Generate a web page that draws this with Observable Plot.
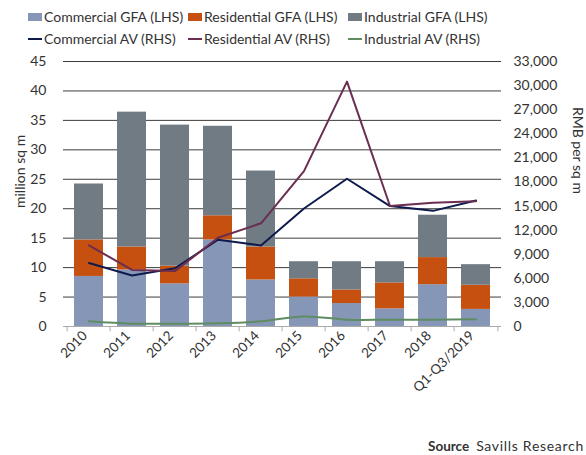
<!DOCTYPE html>
<html><head><meta charset="utf-8">
<script src="https://cdn.jsdelivr.net/npm/d3@7"></script>
<script src="https://cdn.jsdelivr.net/npm/@observablehq/plot@0.6"></script>
<style>
body{margin:0;background:#fff;font-family:Lato,"Open Sans",sans-serif;}
#wrap{position:relative;width:586px;height:455px;overflow:hidden}
#wrap svg{position:absolute;left:0;top:0}
.leg{position:absolute;font-size:14px;color:#333;display:flex;align-items:center;white-space:nowrap;line-height:16px}
.sw{display:inline-block;width:14px;height:8px;margin-right:2px}
.ln{display:inline-block;width:14px;height:2px;margin-right:2px}
.src{position:absolute;left:428px;top:437px;font-size:13.5px;color:#333;white-space:nowrap}
.src span{letter-spacing:0.7px;font-size:14px}
</style></head><body><div id="wrap"></div>
<script>
const categories = ["2010","2011","2012","2013","2014","2015","2016","2017","2018","Q1-Q3/2019"];
const barSeries = ["Commercial GFA (LHS)","Residential GFA (LHS)","Industrial GFA (LHS)"];
const barColors = ["#8596b6","#c5500f","#717b83"];
const commercialGFA = [8.5, 9.6, 7.25, 14.7, 7.9, 5.0, 3.9, 3.0, 7.1, 2.9];
const residentialGFA = [6.2, 3.9, 3.0, 4.1, 5.6, 3.1, 2.3, 4.4, 4.6, 4.1];
const industrialGFA = [9.5, 22.9, 23.95, 15.2, 12.9, 2.9, 4.8, 3.6, 7.2, 3.5];
const lineSeries = ["Commercial AV (RHS)","Residential AV (RHS)","Industrial AV (RHS)"];
const lineColors = ["#0e1a4b","#6b2d50","#5f8d62"];
const commercialAV = [7900, 6350, 7250, 10800, 10100, 14700, 18400, 15000, 14400, 15700];
const residentialAV = [10100, 7050, 6900, 11050, 12850, 19350, 30500, 15000, 15400, 15600];
const industrialAV = [650, 350, 350, 400, 650, 1250, 850, 850, 850, 900];
const leftTicks = [0,5,10,15,20,25,30,35,40,45];
const rightTicks = [0,3000,6000,9000,12000,15000,18000,21000,24000,27000,30000,33000];

const k = 45/33000;
const gfa = [commercialGFA, residentialGFA, industrialGFA];
const av = [commercialAV, residentialAV, industrialAV];
const bars = [];
categories.forEach((c,i)=>barSeries.forEach((s,j)=>bars.push({cat:c, series:s, v:gfa[j][i]})));
const lines = lineSeries.map((s,j)=>categories.map((c,i)=>({cat:c, series:s, v:av[j][i]*k})));

const fmt = d3.format(",");
const plot = Plot.plot({
  width:586, height:455, marginTop:61, marginBottom:129, marginLeft:63, marginRight:85,
  style:{fontFamily:"Lato, 'Open Sans', sans-serif", fontSize:"14px", color:"#333", background:"transparent"},
  x:{domain:categories, paddingInner:0.315, paddingOuter:0.1575, label:null},
  y:{domain:[0,45], label:null},
  color:{domain:barSeries, range:barColors},
  marks:[
    Plot.ruleY(leftTicks.filter(d=>d>0), {stroke:"#3c3c3c", strokeWidth:1}),
    Plot.barY(bars, {x:"cat", y:"v", fill:"series"}),
    Plot.line(lines[2], {x:"cat", y:"v", stroke:lineColors[2], strokeWidth:2, curve:"catmull-rom"}),
    Plot.line(lines[0], {x:"cat", y:"v", stroke:lineColors[0], strokeWidth:2}),
    Plot.line(lines[1], {x:"cat", y:"v", stroke:lineColors[1], strokeWidth:2}),
    Plot.ruleY([0], {stroke:"#aaa"}),
    Plot.ruleX(categories, {x:d=>d, y1:0, y2:-0.9, dx:-21.9, stroke:"#aaa"}),
    Plot.ruleX(categories.slice(-1), {x:d=>d, y1:0, y2:-0.9, dx:21.9, stroke:"#aaa"}),
    Plot.axisY(leftTicks, {anchor:"left", tickSize:0, tickPadding:17, label:null}),
    Plot.axisY(rightTicks.map(d=>d*k), {anchor:"right", tickSize:0, tickPadding:12, label:null, tickFormat:d=>fmt(Math.round(d/k))}),
    Plot.axisX({tickSize:0, tickRotate:-45, tickPadding:7, dx:-4, fontSize:13.5, label:null}),
    Plot.text(["million sq m"], {frameAnchor:"left", dx:-43, dy:14, rotate:-90, text:d=>d, fontSize:14}),
    Plot.text(["RMB per sq m"], {frameAnchor:"right", dx:76, rotate:90, text:d=>d, fontSize:14})
  ]
});
const wrap = document.getElementById("wrap");
wrap.appendChild(plot);
const xs = [28,188,348];
barSeries.forEach((s,j)=>{
  const d = document.createElement("div"); d.className="leg"; d.style.left=xs[j]+"px"; d.style.top="9px";
  d.innerHTML = `<span class="sw" style="background:${barColors[j]}"></span>${s}`; wrap.appendChild(d);
});
lineSeries.forEach((s,j)=>{
  const d = document.createElement("div"); d.className="leg"; d.style.left=xs[j]+"px"; d.style.top="31px";
  d.innerHTML = `<span class="ln" style="background:${lineColors[j]}"></span>${s}`; wrap.appendChild(d);
});
const src = document.createElement("div"); src.className="src";
src.innerHTML = "<b>Source</b>&nbsp; <span>Savills Research</span>"; wrap.appendChild(src);
</script></body></html>
